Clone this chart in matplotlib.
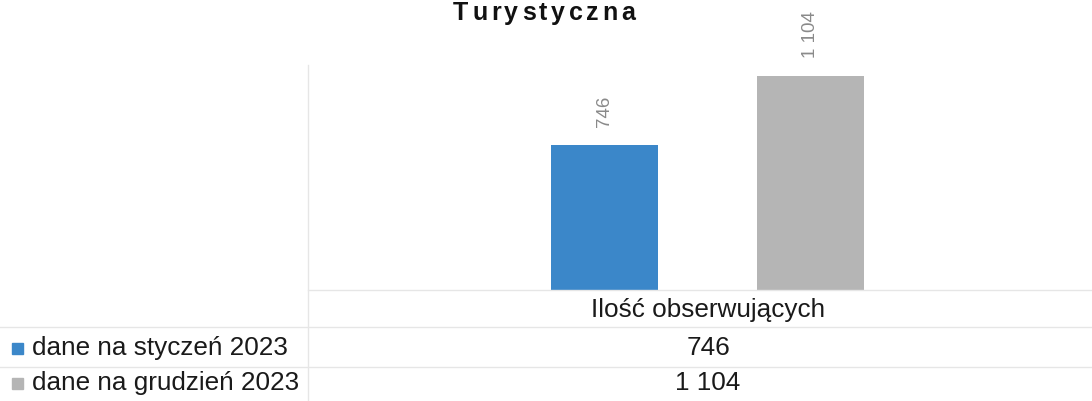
import matplotlib.pyplot as plt
from matplotlib.lines import Line2D
from matplotlib.patches import Rectangle

plt.rcParams['font.family'] = ['Liberation Sans', 'DejaVu Sans']

# dane
title = 'Turystyczna'
category = 'Ilość obserwujących'
series = ['dane na styczeń 2023', 'dane na grudzień 2023']
values = [746, 1104]
labels = ['746', '1 104']
colors = ['#3b87c9', '#b5b5b5']

W, H = 1092, 401
fig = plt.figure(figsize=(W / 100, H / 100), dpi=100)


def fx(px):
    return px / W


def fy(py):
    return 1 - py / H


# obszar wykresu
left, right, top, base = 308, 1092, 65, 290
ax = fig.add_axes([fx(left), fy(base), fx(right - left), fy(top) - fy(base)])
bw = 107 / (right - left)
offsets = [-0.5 * bw - 0.063, 0.5 * bw + 0.063]
for i, v in enumerate(values):
    ax.bar(0.51 + offsets[i], v, width=bw, color=colors[i])
    ax.annotate(labels[i], (0.51 + offsets[i], v), xytext=(0, 13),
                textcoords='offset points', rotation=90, ha='center', va='bottom',
                color='#8a8a8a', fontsize=13.5)
ax.set_xlim(0, 1)
ax.set_ylim(0, 1160)
ax.axis('off')

# tytuł z rozstrzelonymi literami
renderer = fig.canvas.get_renderer()
spacing = 3.6
chars = []
total = 0
for ch in title:
    t = fig.text(0, fy(20), ch, ha='left', va='baseline', fontsize=18,
                 fontweight='bold', color='#111111')
    w = t.get_window_extent(renderer).width
    chars.append((t, w))
    total += w
total += spacing * (len(title) - 1)
x = 544 - total / 2
for t, w in chars:
    t.set_x(fx(x))
    x += w + spacing

# tabela danych
lc = '#e6e6e6'
fig.add_artist(Line2D([fx(left), 1], [fy(base), fy(base)], color=lc, lw=1))
for yy in [327, 367]:
    fig.add_artist(Line2D([0, 1], [fy(yy), fy(yy)], color=lc, lw=1))
fig.add_artist(Line2D([fx(left), fx(left)], [fy(top), 0], color=lc, lw=1))

fs = 18.8
cx = 708
fig.text(fx(cx), fy(317), category, ha='center', va='baseline', fontsize=fs, color='#1a1a1a')
rows_y = [355, 390]
for i, s in enumerate(series):
    fig.add_artist(Rectangle((fx(12), fy(rows_y[i] - 1)), fx(11), fy(0) - fy(11),
                             color=colors[i], transform=fig.transFigure))
    fig.text(fx(32), fy(rows_y[i]), s, ha='left', va='baseline', fontsize=fs, color='#1a1a1a')
    fig.text(fx(cx), fy(rows_y[i]), labels[i], ha='center', va='baseline', fontsize=fs,
             color='#1a1a1a')

fig.savefig('out.png', dpi=100)
